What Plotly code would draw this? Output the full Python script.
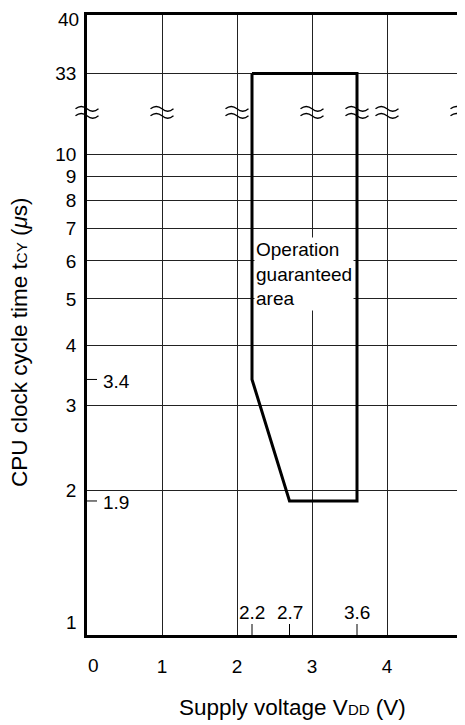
import math
import plotly.graph_objects as go

# ---------------- data ----------------
boundary_voltage = [2.2, 2.2, 2.7, 3.6, 3.6, 2.2]        # V_DD (V)
boundary_cycle_time = [33, 3.4, 1.9, 1.9, 33, 33]         # t_CY (us)

x_tick_values = [0, 1, 2, 3, 4]
y_tick_values = [1, 2, 3, 4, 5, 6, 7, 8, 9, 10, 33, 40]

left_marked_values = [3.4, 1.9]          # t_CY values marked on the left axis
bottom_marked_values = [2.2, 2.7, 3.6]   # V_DD values marked on the bottom axis
break_voltages = [0, 1, 2, 3, 3.6, 4, 5]  # where the axis-break marks sit

# ---------------- broken log axis helper ----------------
# Below 10 the axis is a true log axis; above 10 the drawing compresses the
# range (axis break), so positions above 10 are remapped onto the log axis.
BREAK_ANCHORS = [(10, 1.0), (33, 1.168), (40, 1.289)]
BREAK_POS = 1.087
Y_TOP = 1.2895


def axis_pos(v):
    if v <= 10:
        return v
    for (a, pa), (b, pb) in zip(BREAK_ANCHORS[:-1], BREAK_ANCHORS[1:]):
        if a <= v <= b:
            return 10 ** (pa + (v - a) / (b - a) * (pb - pa))
    return 10 ** BREAK_ANCHORS[-1][1]


FONT = "Liberation Sans, Arial, Helvetica, sans-serif"
W, H = 465, 725
OFF = 8  # page body margin
# plot area on screen: x 87..462, y 15..635
ML, MT = 87 - OFF, 15 - OFF
MR = W - (462 - OFF)
MB = H - (635 - OFF)
PW, PH = W - ML - MR, H - MT - MB
X_MAX = 5


def paper_x(screen_x):
    return (screen_x - OFF - ML) / PW


def paper_y(screen_y):
    return (H - MB - (screen_y - OFF)) / PH


fig = go.Figure()

# operation guaranteed area boundary
fig.add_trace(go.Scatter(
    x=boundary_voltage,
    y=[axis_pos(v) for v in boundary_cycle_time],
    mode="lines",
    line=dict(color="black", width=3),
    hoverinfo="skip", showlegend=False,
))

# short marks for the labelled values on the left axis
for v in left_marked_values:
    fig.add_trace(go.Scatter(
        x=[0, 10 / PW * X_MAX], y=[v, v], mode="lines",
        line=dict(color="black", width=1), hoverinfo="skip", showlegend=False))
# short marks for the labelled values on the bottom axis
for v in bottom_marked_values:
    fig.add_trace(go.Scatter(
        x=[v, v], y=[1, 10 ** (11 / PH * Y_TOP)], mode="lines",
        line=dict(color="black", width=1), hoverinfo="skip", showlegend=False))

annotations = []
for v in left_marked_values:
    annotations.append(dict(
        x=0, y=math.log10(v), xref="x", yref="y", text=str(v), showarrow=False,
        xanchor="left", yanchor="middle", xshift=14, yshift=-2,
        font=dict(family=FONT, size=19, color="black")))
for v in bottom_marked_values:
    annotations.append(dict(
        x=v, y=0, xref="x", yref="y", text=str(v), showarrow=False,
        xanchor="center", yanchor="middle", yshift=23,
        font=dict(family=FONT, size=19, color="black")))

# tick labels drawn as shifted annotations: "1" (bottom), "40" (top), "0"
annotations.append(dict(
    x=0, y=0, xref="x", yref="y", text=str(y_tick_values[0]), showarrow=False,
    xanchor="right", yanchor="middle", xshift=-8, yshift=13,
    font=dict(family=FONT, size=19, color="black")))
annotations.append(dict(
    x=0, y=math.log10(axis_pos(y_tick_values[-1])), xref="x", yref="y",
    text=str(y_tick_values[-1]), showarrow=False, borderpad=0,
    xanchor="right", yanchor="top", xshift=-7, yshift=MT,
    font=dict(family=FONT, size=19, color="black")))
annotations.append(dict(
    x=0, y=0, xref="x", yref="y", text=str(x_tick_values[0]), showarrow=False,
    xanchor="center", yanchor="middle", xshift=6, yshift=-30,
    font=dict(family=FONT, size=19, color="black")))

# area label
annotations.append(dict(
    x=2.225, y=0.7505, xref="x", yref="y",
    text="Operation<br>guaranteed<br>area", showarrow=False,
    xanchor="left", yanchor="middle", align="left",
    bgcolor="white", borderpad=1,
    font=dict(family=FONT, size=19, color="black")))

# axis titles
annotations.append(dict(
    x=paper_x(19), y=paper_y(343), xref="paper", yref="paper",
    text="CPU clock cycle time t<span style='font-size:15px'>CY</span> (<i>μ</i>s)",
    showarrow=False, textangle=-90, xanchor="center", yanchor="middle",
    font=dict(family=FONT, size=22.5, color="black")))
annotations.append(dict(
    x=paper_x(292), y=paper_y(707), xref="paper", yref="paper",
    text="Supply voltage V<span style='font-size:15px'>DD</span> (V)",
    showarrow=False, xanchor="center", yanchor="middle",
    font=dict(family=FONT, size=22.5, color="black")))

# axis break marks (double wavy lines)
shapes = []
hw = 11.5 / PW
amp = 2.4 / PH
yc = BREAK_POS / Y_TOP
for bx in break_voltages:
    xc = bx / X_MAX
    for off in (3.5 / PH, -3.5 / PH):
        y0 = yc + off
        L = xc - hw
        path = (f"M {L},{y0} Q {L + hw / 2},{y0 + 2 * amp} {xc},{y0} "
                f"Q {xc + hw / 2},{y0 - 2 * amp} {xc + hw},{y0}")
        shapes.append(dict(type="path", path=path, xref="paper", yref="paper",
                           line=dict(color="black", width=1.3)))

y_ticktext = ["" if v in (y_tick_values[0], y_tick_values[-1]) else str(v)
              for v in y_tick_values]

fig.update_layout(
    width=W, height=H,
    margin=dict(l=ML, r=MR, t=MT, b=MB, autoexpand=False),
    paper_bgcolor="white", plot_bgcolor="white",
    showlegend=False,
    font=dict(family=FONT, size=19, color="black"),
    annotations=annotations,
    shapes=shapes,
    xaxis=dict(
        range=[0, X_MAX], tickmode="array",
        tickvals=x_tick_values,
        ticktext=["" if v == 0 else str(v) for v in x_tick_values],
        showgrid=True, gridcolor="#222", gridwidth=1,
        showline=True, linecolor="black", linewidth=2.5, mirror=True,
        zeroline=False, ticks="", ticklabelstandoff=12, automargin=False,
        tickfont=dict(family=FONT, size=19, color="black"),
    ),
    yaxis=dict(
        type="log", range=[0, Y_TOP], tickmode="array",
        tickvals=[axis_pos(v) for v in y_tick_values],
        ticktext=y_ticktext,
        showgrid=True, gridcolor="#222", gridwidth=1,
        showline=True, linecolor="black", linewidth=2.5, mirror=True,
        zeroline=False, ticks="", ticklabelstandoff=4, automargin=False,
        tickfont=dict(family=FONT, size=19, color="black"),
    ),
)

fig.write_html("out.html")
